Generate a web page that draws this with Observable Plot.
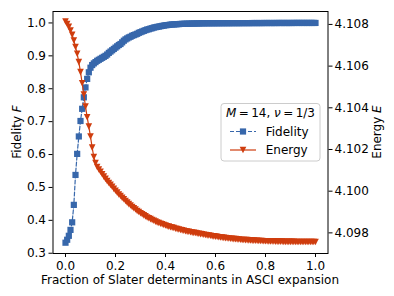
<!DOCTYPE html>
<html><head><meta charset="utf-8">
<script src="https://cdn.jsdelivr.net/npm/d3@7"></script>
<script src="https://cdn.jsdelivr.net/npm/@observablehq/plot@0.6"></script>
<style>body{margin:0;background:#fff}svg{display:block}</style>
</head><body><div id="chart"></div>
<script>
const xTicks = [0, 0.2, 0.4, 0.6, 0.8, 1.0];
const xTickLabels = ["0.0", "0.2", "0.4", "0.6", "0.8", "1.0"];
const fTicks = [0.3, 0.4, 0.5, 0.6, 0.7, 0.8, 0.9, 1.0];
const fTickLabels = ["0.3", "0.4", "0.5", "0.6", "0.7", "0.8", "0.9", "1.0"];
const eTicks = [4.098, 4.100, 4.102, 4.104, 4.106, 4.108];
const eTickLabels = ["4.098", "4.100", "4.102", "4.104", "4.106", "4.108"];
const seriesNames = ["Fidelity", "Energy"];

const fidelity = [
0.332,0.341,0.353,0.371,0.394,0.447,0.538,0.602,0.655,0.702,
0.739,0.774,0.804,0.830,0.850,0.864,0.872,0.877,0.881,0.885,
0.888,0.891,0.894,0.897,0.900,0.904,0.909,0.913,0.917,0.921,
0.925,0.929,0.933,0.936,0.941,0.946,0.950,0.953,0.956,0.958,
0.961,0.963,0.965,0.967,0.970,0.972,0.974,0.976,0.978,0.980,
0.981,0.983,0.984,0.986,0.987,0.988,0.989,0.990,0.991,0.992,
0.993,0.9935,0.994,0.995,0.9953,0.9956,0.996,0.9963,0.9966,0.997,
0.9972,0.9974,0.9976,0.9977,0.9978,0.998,0.9982,0.9983,0.9984,0.9985,
0.9986,0.9988,0.9990,0.9990,0.9991,0.9991,0.9991,0.9992,0.9992,0.9992,
0.9992,0.9993,0.9993,0.9993,0.9993,0.9994,0.9994,0.9994,0.9994,0.9994,
0.9995,0.9995,0.9995,0.9995,0.9995,0.9995,0.9996,0.9996,0.9996,0.9996,
0.9996,0.9996,0.9997,0.9997,0.9997,0.9997,0.9997,0.9997,0.9997,0.9998,
0.9998,0.9998,0.9998,0.9998,0.9998,0.9998,0.9998,0.9999,0.9999,0.9999,
0.9999,0.9999,0.9999,0.9999,0.9999,0.9999,0.9999,1.0000,1.0000,1.0000,
1.0000,1.0000,1.0000,1.0000,1.0000,1.0000,1.0000,1.0000,1.0000,1.0000,
1.0000
];

const energy = [
4.10814,4.10802,4.10788,4.10771,4.10750,4.10723,4.10692,4.10659,4.10619,4.10571,
4.10518,4.10464,4.10406,4.10355,4.10310,4.10262,4.10209,4.10164,4.10135,4.10116,
4.10104,4.10093,4.10081,4.10070,4.10059,4.10048,4.10039,4.10030,4.10021,4.10011,
4.10002,4.09993,4.09984,4.09977,4.09968,4.09961,4.09953,4.09945,4.09938,4.09931,
4.09924,4.09918,4.09912,4.09905,4.09900,4.09894,4.09889,4.09884,4.09879,4.09874,
4.09870,4.09866,4.09862,4.09858,4.09854,4.09850,4.09847,4.09844,4.09841,4.09838,
4.09835,4.09832,4.09830,4.09827,4.09825,4.09823,4.09820,4.09818,4.09816,4.09814,
4.09812,4.09810,4.09808,4.09806,4.09805,4.09803,4.09801,4.09800,4.09799,4.09797,
4.09796,4.09794,4.09793,4.09791,4.09790,4.09788,4.09787,4.09786,4.09784,4.09783,
4.09782,4.09781,4.09779,4.09778,4.09777,4.09776,4.09775,4.09774,4.09773,4.09772,
4.09771,4.09770,4.09770,4.09769,4.09768,4.09767,4.09766,4.09766,4.09765,4.09765,
4.09764,4.09764,4.09763,4.09763,4.09762,4.09762,4.09761,4.09761,4.09761,4.09760,
4.09760,4.09760,4.09759,4.09759,4.09759,4.09759,4.09758,4.09758,4.09758,4.09758,
4.09758,4.09757,4.09757,4.09757,4.09757,4.09757,4.09757,4.09757,4.09756,4.09756,
4.09756,4.09756,4.09756,4.09756,4.09756,4.09756,4.09756,4.09756,4.09756,4.09756,
4.09756
];

// fraction of determinants: k out of N
const N = fidelity.length - 1;
const fraction = fidelity.map((_, k) => k / N);

const blue = "#3767ab", red = "#cf3d0e";
const fDomain = [0.2992, 1.0348], eDomain = [4.09701, 4.10862];
const toF = e => fDomain[0] + (e - eDomain[0]) / (eDomain[1] - eDomain[0]) * (fDomain[1] - fDomain[0]);
const fData = fidelity.map((f, i) => ({x: fraction[i], y: f}));
const eData = energy.map((e, i) => ({x: fraction[i], y: toF(e)}));
const eTickPos = eTicks.map(toF);
const lookup = (ticks, labels) => d => labels[ticks.findIndex(t => Math.abs(t - d) < 1e-9)];
const triDown = {draw(ctx, size) {const h = Math.sqrt(size / Math.PI); ctx.moveTo(-h, -h); ctx.lineTo(h, -h); ctx.lineTo(0, h); ctx.closePath();}};
const sqR = 3.5, triR = 3.3;

const M = {top: 11, bottom: 43, left: 52.5, right: 66.5};
const W = 394, H = 296;

const chart = Plot.plot({
  width: W, height: H,
  marginTop: M.top, marginBottom: M.bottom, marginLeft: M.left, marginRight: M.right,
  style: {fontFamily: "DejaVu Sans", fontSize: "12px", color: "black", background: "white"},
  x: {domain: [-0.05, 1.05]},
  y: {domain: fDomain},
  marks: [
    Plot.axisX(xTicks, {tickFormat: lookup(xTicks, xTickLabels), tickSize: 4, tickPadding: 3.5, label: null, fontSize: 12}),
    Plot.axisY(fTicks, {tickFormat: lookup(fTicks, fTickLabels), tickSize: 4, tickPadding: 3, label: null, fontSize: 12}),
    Plot.axisY(eTickPos, {anchor: "right", tickFormat: lookup(eTickPos, eTickLabels), tickSize: 4, tickPadding: 2.5, label: null, fontSize: 12}),
    Plot.line(fData, {x: "x", y: "y", stroke: blue, strokeWidth: 1.2, strokeDasharray: "4,2"}),
    Plot.dot(fData, {x: "x", y: "y", symbol: "square", r: sqR, fill: blue, stroke: "none"}),
    Plot.line(eData, {x: "x", y: "y", stroke: red, strokeWidth: 1.2}),
    Plot.dot(eData, {x: "x", y: "y", symbol: triDown, r: triR, fill: red, stroke: "none"}),
    Plot.frame({stroke: "black", strokeWidth: 1})
  ]
});
document.getElementById("chart").appendChild(chart);

const svg = d3.select(chart);
const cx = (M.left + W - M.right) / 2, cy = (M.top + H - M.bottom) / 2;
const txt = (sel) => sel.attr("font-family", "DejaVu Sans").attr("font-size", 12).attr("fill", "black");

svg.append("text").call(txt).attr("x", cx).attr("y", 283.5).attr("text-anchor", "middle")
  .text("Fraction of Slater determinants in ASCI expansion");

const yl = svg.append("text").call(txt).attr("text-anchor", "middle")
  .attr("transform", `translate(20.5,${cy}) rotate(-90)`);
yl.append("tspan").text("Fidelity ");
yl.append("tspan").attr("font-style", "italic").text("F");

const yr = svg.append("text").call(txt).attr("text-anchor", "middle")
  .attr("transform", `translate(380.5,${cy}) rotate(-90)`);
yr.append("tspan").text("Energy ");
yr.append("tspan").attr("font-style", "italic").text("E");

// legend
const lg = svg.append("g");
lg.append("rect").attr("x", 221).attr("y", 103.5).attr("width", 99).attr("height", 57.5).attr("rx", 3)
  .attr("fill", "white").attr("fill-opacity", 0.8).attr("stroke", "#cccccc").attr("stroke-width", 1);
const tt = lg.append("text").call(txt).attr("x", 270.5).attr("y", 117.3).attr("text-anchor", "middle");
tt.append("tspan").attr("font-style", "italic").text("M");
tt.append("tspan").text("\u2009=\u200914, ");
tt.append("tspan").attr("font-style", "italic").text("ν");
tt.append("tspan").text("\u2009=\u20091/3");

lg.append("line").attr("x1", 230).attr("x2", 256).attr("y1", 131.5).attr("y2", 131.5)
  .attr("stroke", blue).attr("stroke-width", 1.2).attr("stroke-dasharray", "4,2");
lg.append("path").attr("d", d3.symbol(d3.symbolSquare, Math.PI * sqR * sqR)()).attr("transform", "translate(243,131.5)").attr("fill", blue);
lg.append("text").call(txt).attr("x", 265.7).attr("y", 136).attr("text-anchor", "start").text(seriesNames[0]);

lg.append("line").attr("x1", 230).attr("x2", 256).attr("y1", 150).attr("y2", 150)
  .attr("stroke", red).attr("stroke-width", 1.2);
lg.append("path").attr("d", d3.symbol(triDown, Math.PI * triR * triR)()).attr("transform", "translate(243,150)").attr("fill", red);
lg.append("text").call(txt).attr("x", 265.7).attr("y", 154).attr("text-anchor", "start").text(seriesNames[1]);
</script>
</body></html>
